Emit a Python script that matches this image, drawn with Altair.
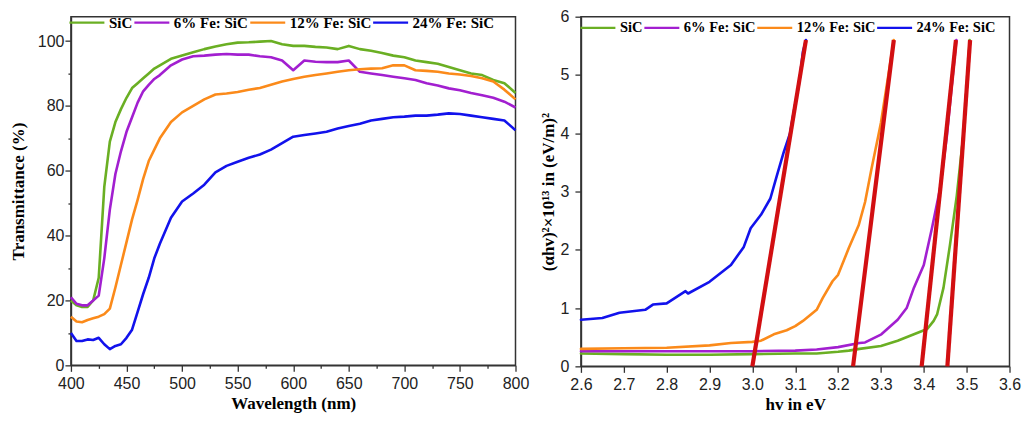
import altair as alt
import pandas as pd

# ---------------- data: transmittance (left panel) ----------------
series = ["SiC", "6% Fe: SiC", "12% Fe: SiC", "24% Fe: SiC"]
colors = ["#6aaf23", "#a21fd0", "#fb8a1a", "#1212ec"]

wavelength = [400, 405, 410, 415, 420, 425, 430, 435, 440, 445, 450, 455, 460, 465, 470, 475,
              480, 490, 500, 510, 520, 530, 540, 550, 560, 570, 580, 590, 600, 610, 620, 630,
              640, 650, 660, 670, 680, 690, 700, 710, 720, 730, 740, 750, 760, 770, 780, 790, 800]

t_sic = [20, 18.5, 18, 18, 20, 27, 55, 69, 75, 79, 82.5, 85.5, 87, 88.5, 90, 91.5,
         92.5, 94.5, 95.5, 96.5, 97.5, 98.3, 99, 99.5, 99.6, 99.8, 100, 99, 98.5, 98.5, 98.2, 98,
         97.5, 98.5, 97.5, 97, 96.3, 95.5, 95, 94, 93.5, 93, 92, 91, 90, 89.5, 88, 87, 84]
t_fe6 = [21, 19, 18.5, 18.5, 20, 21.5, 33, 48, 59, 66, 72, 76.5, 81, 84.5, 86.5, 88.3,
         89.5, 92.5, 94.3, 95.3, 95.5, 95.8, 96, 95.8, 95.8, 95.3, 95, 94, 91, 94, 93.6, 93.5,
         93.5, 94, 90.5, 90, 89.5, 89, 88.5, 88, 87, 86.3, 85.4, 84.8, 84, 83.3, 82.5, 81.3, 79.5]
t_fe12 = [15, 13.5, 13.3, 14, 14.5, 15, 15.8, 17.5, 24, 31, 38, 45, 51, 57.5, 63, 66.5,
          70, 75, 78, 80, 82, 83.5, 83.8, 84.3, 85, 85.5, 86.5, 87.5, 88.3, 89, 89.5, 90,
          90.5, 91, 91.3, 91.5, 91.6, 92.5, 92.5, 91, 90.8, 90.5, 90, 89.7, 89.2, 88.5, 87.5, 85, 82]
t_fe24 = [10, 7.5, 7.5, 8, 7.8, 8.5, 6.5, 5, 6, 6.5, 8.5, 11, 16.5, 22, 27, 33,
          37.5, 45.5, 50.5, 53, 55.7, 59.5, 61.5, 62.8, 64, 65, 66.5, 68.5, 70.5, 71, 71.5, 72,
          73, 73.8, 74.5, 75.5, 76, 76.5, 76.7, 77, 77, 77.3, 77.7, 77.5, 77, 76.5, 76, 75.5, 72.5]

# ---------------- data: Tauc plot (right panel) ----------------
e_sic = [2.6, 2.7, 2.8, 2.9, 3.0, 3.1, 3.15, 3.2, 3.225, 3.25, 3.3, 3.339, 3.377, 3.408, 3.423,
         3.431, 3.446, 3.461, 3.477, 3.492, 3.503, 3.507]
a_sic = [0.22, 0.21, 0.2, 0.2, 0.21, 0.22, 0.22, 0.25, 0.27, 0.3, 0.35, 0.44, 0.55, 0.64, 0.78,
         0.89, 1.35, 2.08, 2.93, 3.96, 5.09, 5.6]
e_fe6 = [2.6, 2.8, 3.0, 3.1, 3.15, 3.2, 3.25, 3.263, 3.301, 3.339, 3.36, 3.377, 3.4, 3.419,
         3.438, 3.454, 3.469, 3.476]
a_fe6 = [0.26, 0.26, 0.26, 0.27, 0.29, 0.33, 0.4, 0.41, 0.55, 0.8, 1.0, 1.35, 1.74, 2.37,
         3.05, 3.96, 5.09, 5.6]
e_fe12 = [2.6, 2.7, 2.8, 2.9, 2.95, 3.0, 3.02, 3.05, 3.08, 3.1, 3.118, 3.15, 3.164, 3.187,
          3.2, 3.225, 3.248, 3.263, 3.278, 3.294, 3.3, 3.33]
a_fe12 = [0.3, 0.31, 0.32, 0.36, 0.4, 0.42, 0.44, 0.55, 0.62, 0.69, 0.78, 0.97, 1.17, 1.46,
          1.57, 2.03, 2.42, 2.82, 3.39, 3.96, 4.18, 5.6]
e_fe24 = [2.6, 2.65, 2.69, 2.75, 2.768, 2.8, 2.844, 2.85, 2.9, 2.95, 2.98, 2.996, 3.02, 3.042,
          3.057, 3.073, 3.088, 3.095, 3.11, 3.118, 3.125]
a_fe24 = [0.8, 0.83, 0.92, 0.97, 1.06, 1.08, 1.29, 1.25, 1.45, 1.74, 2.05, 2.37, 2.6, 2.88,
          3.27, 3.67, 4.0, 4.3, 4.9, 5.4, 5.6]

# linear fits (band-gap extrapolation)
fit_e0 = [3.0, 3.235, 3.395, 3.455]
fit_e1 = [3.125, 3.33, 3.475, 3.508]
fit_a0 = [0, 0, 0, 0]
fit_a1 = [5.6, 5.6, 5.6, 5.6]

# tick values
wl_major = [400, 450, 500, 550, 600, 650, 700, 750, 800]
wl_minor = [425, 475, 525, 575, 625, 675, 725, 775]
t_major = [0, 20, 40, 60, 80, 100]
t_minor = [10, 30, 50, 70, 90]
hv_major = [2.6, 2.7, 2.8, 2.9, 3.0, 3.1, 3.2, 3.3, 3.4, 3.5, 3.6]
hv_minor = [2.65, 2.75, 2.85, 2.95, 3.05, 3.15, 3.25, 3.35, 3.45, 3.55]
a_major = [0, 1, 2, 3, 4, 5, 6]
a_minor = [0.5, 1.5, 2.5, 3.5, 4.5, 5.5]

# ---------------- tables ----------------
trans_rows = []
for name, vals in zip(series, [t_sic, t_fe6, t_fe12, t_fe24]):
    for w, v in zip(wavelength, vals):
        trans_rows.append({"wl": w, "T": v, "s": name})
df_t = pd.DataFrame(trans_rows)

tauc_rows = []
for name, es, vs in zip(series, [e_sic, e_fe6, e_fe12, e_fe24], [a_sic, a_fe6, a_fe12, a_fe24]):
    for e, v in zip(es, vs):
        tauc_rows.append({"e": e, "a": v, "s": name})
df_a = pd.DataFrame(tauc_rows)

fit_rows = []
for i in range(len(fit_e0)):
    fit_rows.append({"e": fit_e0[i], "a": fit_a0[i], "k": i})
    fit_rows.append({"e": fit_e1[i], "a": fit_a1[i], "k": i})
df_fit = pd.DataFrame(fit_rows)

SERIF = "Liberation Serif"
SANS = "Liberation Sans"
AXC = "#333333"


def in_list(vals):
    return "indexof([" + ",".join(repr(v) for v in vals) + "], datum.value) >= 0"


def make_axis(major, minor, fmt, title, orient, label_pad, title_pad):
    test = in_list(major)
    return alt.Axis(
        values=sorted(major + minor),
        format=fmt,
        labelExpr="(" + test + ") ? datum.label : ''",
        tickSize={"condition": {"test": test, "value": 6}, "value": 3},
        tickColor=AXC,
        tickWidth=1.3,
        domainColor=AXC,
        domainWidth=1.5,
        labelFont=SANS,
        labelFontSize=16,
        labelColor="#222222",
        labelPadding=label_pad,
        labelFlush=False,
        labelOverlap=False,
        title=title,
        titleFont=SERIF,
        titleFontSize=17,
        titleFontWeight="bold",
        titleColor="black",
        titlePadding=title_pad,
        grid=False,
        orient=orient,
    )


def make_legend(x, y, fs):
    return alt.Legend(
        orient="none", legendX=x, legendY=y, direction="horizontal", title=None,
        symbolType="stroke", symbolSize=1225, symbolStrokeWidth=2.2,
        labelFont=SERIF, labelFontWeight="bold", labelFontSize=fs, labelColor="black",
        columnPadding=-8, labelOffset=3, padding=0, labelLimit=300,
    )


color_scale = alt.Scale(domain=series, range=colors)

left = alt.Chart(df_t).mark_line(strokeWidth=2.6, strokeJoin="round").encode(
    x=alt.X("wl:Q", scale=alt.Scale(domain=[400, 800], nice=False),
            axis=make_axis(wl_major, wl_minor, "d", "Wavelength (nm)", "bottom", 4, 4.5)),
    y=alt.Y("T:Q", scale=alt.Scale(domain=[0, 107.5], nice=False),
            axis=make_axis(t_major, t_minor, "d", "Transmittance (%)", "left", 1, 10)),
    color=alt.Color("s:N", scale=color_scale, sort=series, legend=make_legend(-3, -13, 15)),
    order=alt.Order("o:Q"),
).transform_calculate(
    o="indexof(" + str(series) + ", datum.s)"
).properties(width=445, height=349)

tauc_lines = alt.Chart(df_a).mark_line(strokeWidth=2.6, strokeJoin="round", strokeCap="round").encode(
    x=alt.X("e:Q", scale=alt.Scale(domain=[2.6, 3.6], nice=False),
            axis=make_axis(hv_major, hv_minor, ".1f", "hv in eV", "bottom", 4, 4.5)),
    y=alt.Y("a:Q", scale=alt.Scale(domain=[0, 6], nice=False),
            axis=make_axis(a_major, a_minor, "d", "(αhv)²×10¹³ in (eV/m)²", "left", 6, 3)),
    color=alt.Color("s:N", scale=color_scale, sort=series, legend=make_legend(-2, -8, 14.5)),
)

fits = alt.Chart(df_fit).mark_line(strokeWidth=4.2, color="#d20f12", strokeCap="butt").encode(
    x="e:Q", y="a:Q", detail="k:N"
)

right = alt.layer(tauc_lines, fits).properties(width=429, height=350)

chart = alt.hconcat(left, right, spacing=7.5).resolve_legend(color="independent").resolve_scale(
    color="independent"
).configure_view(stroke=AXC, strokeWidth=1.5).properties(
    padding={"left": 0, "top": -5.5, "right": 0, "bottom": 0},
    background="white",
)

chart.save("out.html", embed_options={"renderer": "svg", "actions": False})
